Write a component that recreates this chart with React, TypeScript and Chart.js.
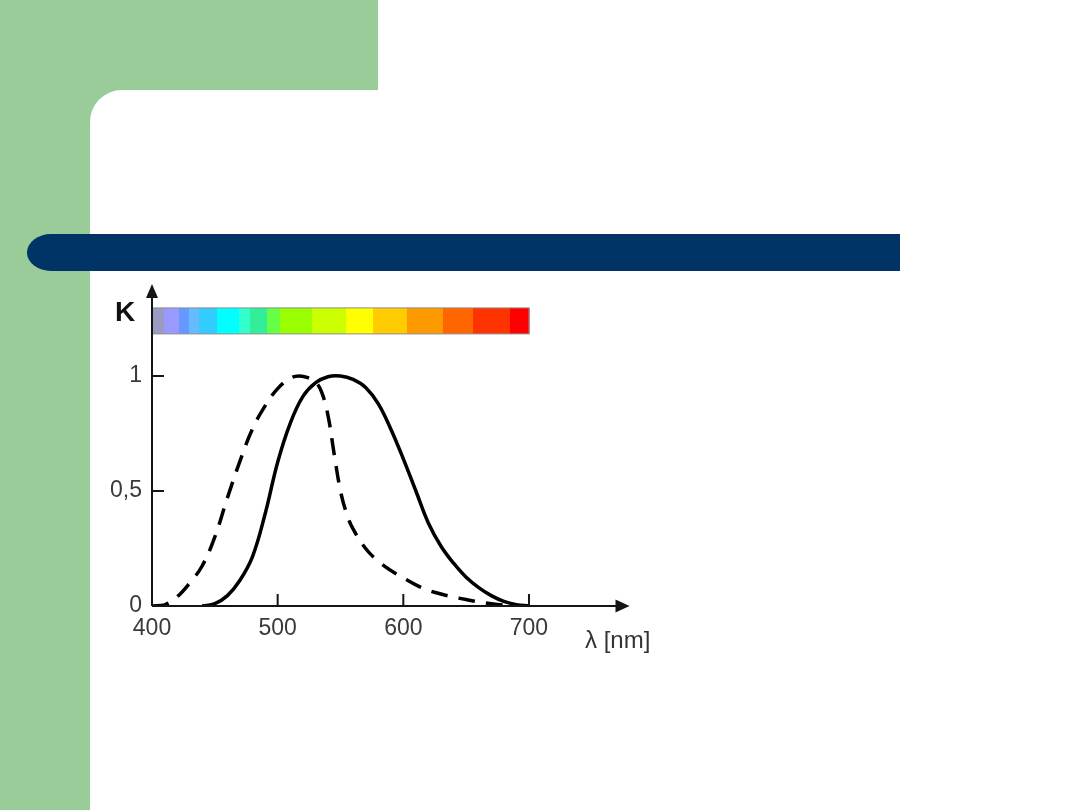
import React, { useEffect, useRef } from "react";
import { Chart, registerables } from "chart.js";

Chart.register(...registerables);

// ---- data ----
const xTickValues = [400, 500, 600, 700];
const yTickValues = [0, 0.5, 1];
const yTickLabels = ["0", "0,5", "1"];

// photopic (solid) curve
const photopicNm = [440, 450, 460, 470, 480, 490, 500, 510, 520, 530, 540, 550, 560, 570, 580, 590, 600, 610, 620, 630, 640, 650, 660, 670, 680, 690, 700];
const photopicK = [0, 0.01, 0.045, 0.112, 0.215, 0.4, 0.625, 0.794, 0.91, 0.97, 0.997, 1.0, 0.985, 0.95, 0.88, 0.77, 0.64, 0.5, 0.36, 0.26, 0.186, 0.125, 0.08, 0.045, 0.02, 0.006, 0];

// scotopic (dashed) curve
const scotopicNm = [400, 410, 420, 430, 440, 450, 460, 470, 480, 490, 500, 510, 517, 524, 530, 535, 540, 545, 550, 555, 560, 570, 580, 590, 600, 610, 620, 630, 640, 650, 660, 670, 680, 690];
const scotopicK = [0, 0.005, 0.04, 0.1, 0.175, 0.3, 0.47, 0.63, 0.77, 0.87, 0.945, 0.99, 1.0, 0.993, 0.975, 0.93, 0.83, 0.66, 0.5, 0.4, 0.335, 0.25, 0.195, 0.155, 0.122, 0.092, 0.068, 0.052, 0.039, 0.028, 0.018, 0.01, 0.004, 0];

// spectrum colour bar (bands in nm)
const spectrumFrom = [400, 410, 422, 430, 438, 452, 470, 478, 492, 502, 528, 555, 576, 603, 632, 656, 685];
const spectrumTo = [410, 422, 430, 438, 452, 470, 478, 492, 502, 528, 555, 576, 603, 632, 656, 685, 700];
const spectrumColors = ["#9a9ac2", "#9999ff", "#6699ff", "#66bbff", "#33ccff", "#00ffff", "#33ffcc", "#33ee99", "#66ff44", "#99ff00", "#ccff00", "#ffff00", "#ffcc00", "#ff9900", "#ff6600", "#ff3300", "#ff0000"];
const spectrumK = [1.183, 1.296];

const xTickMarks = [500, 600, 700];
const yTickMarks = [0.5, 1];

const FONT = '"Liberation Sans", Arial, sans-serif';

const decorPlugin = {
  id: "decor",
  beforeDatasetsDraw(chart: any) {
    const { ctx, scales } = chart;
    const xs = scales.x;
    const ys = scales.y;
    const yT = ys.getPixelForValue(spectrumK[1]);
    const yB = ys.getPixelForValue(spectrumK[0]);
    ctx.save();
    for (let i = 0; i < spectrumFrom.length; i++) {
      const a = xs.getPixelForValue(spectrumFrom[i]);
      const b = xs.getPixelForValue(spectrumTo[i]);
      ctx.fillStyle = spectrumColors[i];
      ctx.fillRect(Math.floor(a), yT, Math.ceil(b) - Math.floor(a) + 0.5, yB - yT);
    }
    const x0 = xs.getPixelForValue(spectrumFrom[0]);
    const x1 = xs.getPixelForValue(spectrumTo[spectrumTo.length - 1]);
    ctx.strokeStyle = "#8c8c8c";
    ctx.lineWidth = 1;
    ctx.strokeRect(x0, yT, x1 - x0, yB - yT);
    ctx.restore();
  },
  afterDatasetsDraw(chart: any) {
    const { ctx, scales, chartArea } = chart;
    const xs = scales.x;
    const ys = scales.y;
    const ox = xs.getPixelForValue(400);
    const oy = ys.getPixelForValue(0);
    const top = chartArea.top;
    const right = chartArea.right;
    ctx.save();
    ctx.strokeStyle = "#151515";
    ctx.fillStyle = "#151515";
    ctx.lineWidth = 2;
    ctx.beginPath();
    ctx.moveTo(ox, oy);
    ctx.lineTo(ox, top + 10);
    ctx.moveTo(ox, oy);
    ctx.lineTo(right - 10, oy);
    ctx.stroke();
    // arrow heads
    ctx.beginPath();
    ctx.moveTo(ox, top);
    ctx.lineTo(ox - 6, top + 14);
    ctx.lineTo(ox + 6, top + 14);
    ctx.closePath();
    ctx.fill();
    ctx.beginPath();
    ctx.moveTo(right, oy);
    ctx.lineTo(right - 14, oy - 6.5);
    ctx.lineTo(right - 14, oy + 6.5);
    ctx.closePath();
    ctx.fill();
    // inward tick marks
    ctx.lineWidth = 2;
    ctx.beginPath();
    xTickMarks.forEach((v) => {
      const p = xs.getPixelForValue(v);
      ctx.moveTo(p, oy);
      ctx.lineTo(p, oy - 12);
    });
    yTickMarks.forEach((v) => {
      const p = ys.getPixelForValue(v);
      ctx.moveTo(ox, p);
      ctx.lineTo(ox + 12, p);
    });
    ctx.stroke();
    ctx.restore();
  },
};

export default function App() {
  const canvasRef = useRef<HTMLCanvasElement | null>(null);

  useEffect(() => {
    const canvas = canvasRef.current;
    if (!canvas) return;
    const chart = new Chart(canvas, {
      type: "line",
      data: {
        datasets: [
          {
            label: "photopic",
            data: photopicNm.map((x, i) => ({ x, y: photopicK[i] })),
            borderColor: "#000000",
            borderWidth: 3.5,
            pointRadius: 0,
            fill: false,
            tension: 0.4,
          },
          {
            label: "scotopic",
            data: scotopicNm.map((x, i) => ({ x, y: scotopicK[i] })),
            borderColor: "#000000",
            borderWidth: 3.5,
            borderDash: [17, 11],
            borderCapStyle: "butt",
            pointRadius: 0,
            fill: false,
            tension: 0.4,
          },
        ],
      },
      options: {
        animation: false,
        responsive: false,
        devicePixelRatio: 1,
        events: [],
        layout: { padding: { left: 102, top: 284, right: 450.5, bottom: 164 } },
        plugins: { legend: { display: false }, tooltip: { enabled: false }, title: { display: false } },
        scales: {
          x: {
            type: "linear",
            min: 400,
            max: 780,
            afterFit: (s: any) => {
              s.height = 40;
            },
            afterBuildTicks: (s: any) => {
              s.ticks = xTickValues.map((v) => ({ value: v }));
            },
            grid: { display: false, drawTicks: false },
            border: { display: false },
            ticks: {
              autoSkip: false,
              maxRotation: 0,
              padding: 9,
              color: "#3a3a3a",
              font: { family: FONT, size: 23 },
              callback: (v: any) => String(v),
            },
          },
          y: {
            type: "linear",
            min: 0,
            max: 1.4,
            afterFit: (s: any) => {
              s.width = 50;
            },
            afterBuildTicks: (s: any) => {
              s.ticks = yTickValues.map((v) => ({ value: v }));
            },
            grid: { display: false, drawTicks: false },
            border: { display: false },
            ticks: {
              autoSkip: false,
              padding: 10,
              color: "#3a3a3a",
              font: { family: FONT, size: 23 },
              callback: (v: any) => {
                const i = yTickValues.indexOf(Number(v));
                return i >= 0 ? yTickLabels[i] : "";
              },
            },
          },
        },
      },
      plugins: [decorPlugin],
    } as any);
    return () => chart.destroy();
  }, []);

  return (
    <div style={{ position: "absolute", left: 0, top: 0, width: 1080, height: 810, overflow: "hidden", background: "#ffffff" }}>
      <div style={{ position: "absolute", left: 0, top: 0, width: 378, height: 140, background: "#99cc99" }} />
      <div style={{ position: "absolute", left: 0, top: 0, width: 90, height: 810, background: "#99cc99" }} />
      <div style={{ position: "absolute", left: 90, top: 90, width: 990, height: 720, background: "#ffffff", borderTopLeftRadius: 32 }} />
      <div
        style={{
          position: "absolute",
          left: 27,
          top: 234,
          width: 873,
          height: 37,
          background: "#003366",
          borderTopLeftRadius: "24px 18.5px",
          borderBottomLeftRadius: "24px 18.5px",
        }}
      />
      <canvas ref={canvasRef} width={1080} height={810} style={{ position: "absolute", left: 0, top: 0, display: "block" }} />
      <div style={{ position: "absolute", left: 115, top: 298, font: `bold 28px/28px ${FONT}`, color: "#111111", whiteSpace: "nowrap" }}>K</div>
      <div style={{ position: "absolute", left: 585, top: 628, font: `24px/24px ${FONT}`, color: "#333333", whiteSpace: "nowrap" }}>λ [nm]</div>
    </div>
  );
}
